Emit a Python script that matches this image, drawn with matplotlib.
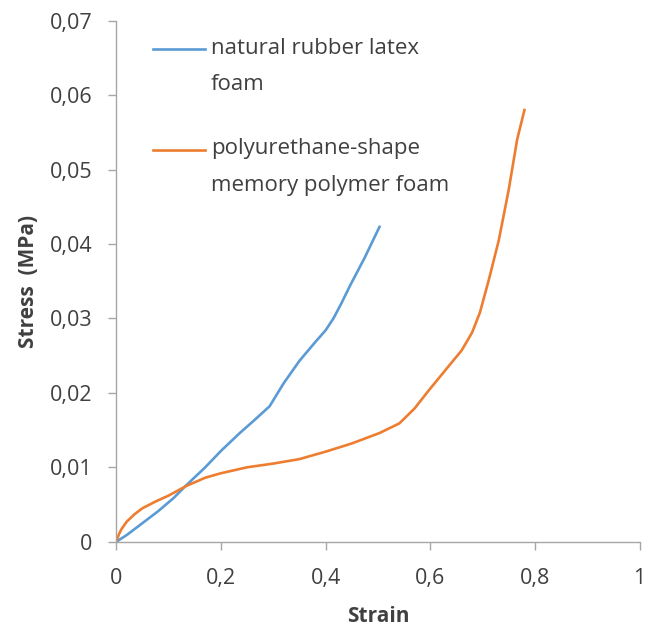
import numpy as np
import matplotlib
matplotlib.use('Agg')
import matplotlib.pyplot as plt
from matplotlib.ticker import FuncFormatter
from matplotlib.legend_handler import HandlerLine2D

plt.rcParams['font.family'] = ['Open Sans', 'DejaVu Sans']

# natural rubber latex foam
nr_strain = [0, 0.02, 0.05, 0.08, 0.11, 0.134, 0.17, 0.20, 0.236, 0.265, 0.293, 0.32, 0.35,
             0.38, 0.40, 0.415, 0.43, 0.446, 0.475, 0.503]
nr_stress = [0, 0.0009, 0.0025, 0.0041, 0.0059, 0.0076, 0.0100, 0.0122, 0.0146, 0.0164, 0.0182, 0.0213, 0.0243,
             0.0268, 0.0284, 0.0300, 0.0320, 0.0343, 0.0382, 0.0423]

# polyurethane-shape memory polymer foam
pu_strain = [0, 0.005, 0.01, 0.02, 0.035, 0.05, 0.075, 0.10, 0.134, 0.17, 0.20, 0.25, 0.30, 0.35, 0.40,
             0.45, 0.503, 0.541, 0.57, 0.598, 0.64, 0.66, 0.68, 0.695, 0.712, 0.731, 0.75, 0.766, 0.780]
pu_stress = [0, 0.0010, 0.0017, 0.0027, 0.0037, 0.0045, 0.0054, 0.0062, 0.0075, 0.0086, 0.0092, 0.0100, 0.0105,
             0.0111, 0.0121, 0.0132, 0.0146, 0.0159, 0.0179, 0.0204, 0.0240, 0.0257, 0.0281, 0.0308, 0.0352,
             0.0405, 0.0473, 0.0540, 0.0580]

labels = ['natural rubber latex\nfoam', 'polyurethane-shape\nmemory polymer foam']
colors = ['#5B9BD5', '#ED7D31']
text_color = '#404040'


class FirstLineHandler(HandlerLine2D):
    # put the legend line level with the first text line
    def create_artists(self, legend, orig_handle, xdescent, ydescent, width, height, fontsize, trans):
        arts = super().create_artists(legend, orig_handle, xdescent, ydescent, width, height, fontsize, trans)
        for a in arts:
            a.set_ydata(np.asarray(a.get_ydata()) + fontsize * 0.78)
        return arts


fig = plt.figure(figsize=(6.46, 6.27), dpi=100)
ax = fig.add_axes([0.18, 0.136, 0.81, 0.831])

l1, = ax.plot(nr_strain, nr_stress, color=colors[0], lw=1.9, label=labels[0])
l2, = ax.plot(pu_strain, pu_stress, color=colors[1], lw=1.9, label=labels[1])

ax.set_xlim(0, 1)
ax.set_ylim(0, 0.07)
ax.set_xticks(np.arange(0, 1.01, 0.2))
ax.set_yticks(np.arange(0, 0.0701, 0.01))
ax.xaxis.set_major_formatter(FuncFormatter(lambda v, p: '0' if v == 0 else ('1' if abs(v - 1) < 1e-9 else ('%.1f' % v).replace('.', ','))))
ax.yaxis.set_major_formatter(FuncFormatter(lambda v, p: '0' if v == 0 else ('%.2f' % v).replace('.', ',')))

for s in ['top', 'right']:
    ax.spines[s].set_visible(False)
for s in ['left', 'bottom']:
    ax.spines[s].set_color('#A6A6A6')
    ax.spines[s].set_linewidth(1.0)
ax.tick_params(colors='#A6A6A6', labelcolor=text_color, labelsize=15.5, length=6, width=1.0)
ax.tick_params(axis='y', pad=11)
ax.tick_params(axis='x', pad=13)

ax.set_xlabel('Strain', fontsize=15, fontweight='bold', color=text_color, labelpad=12)
ax.set_ylabel('Stress  (MPa)', fontsize=15, fontweight='bold', color=text_color, labelpad=8)

leg = ax.legend(handles=[l1, l2], loc='upper left', bbox_to_anchor=(0.07, 0.967), frameon=False, fontsize=16,
                handlelength=2.35, handletextpad=0.25, labelspacing=1.95, borderpad=0, borderaxespad=0,
                labelcolor=text_color, handler_map={matplotlib.lines.Line2D: FirstLineHandler()})
for t in leg.get_texts():
    t.set_linespacing(1.95)

fig.savefig('out.png', dpi=100)
